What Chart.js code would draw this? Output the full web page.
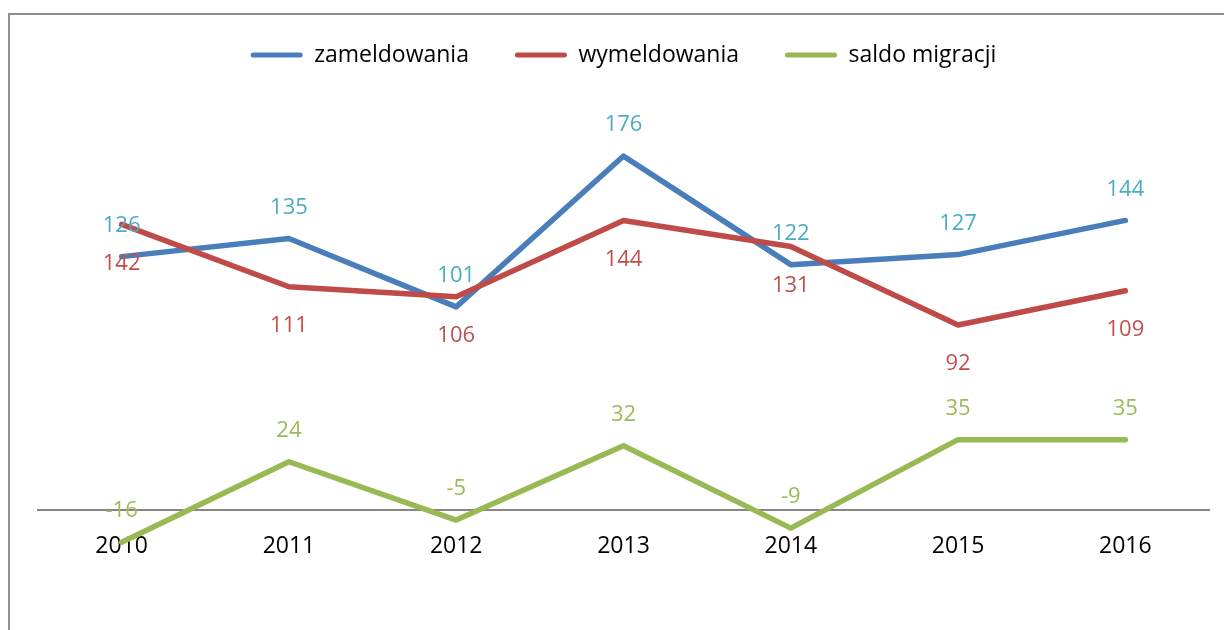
<!DOCTYPE html>
<html><head><meta charset="utf-8">
<script src="https://cdn.jsdelivr.net/npm/chart.js@4.4.1/dist/chart.umd.min.js"></script>
<style>
html,body{margin:0;padding:0;background:#fff;overflow:hidden;}
#wrap{position:relative;width:1224px;height:630px;overflow:hidden;background:#fff;}
#frame{position:absolute;left:8px;top:13px;width:1300px;height:700px;border-left:2px solid #8e8e8e;border-top:2px solid #8e8e8e;}
canvas{position:absolute;left:0;top:0;}
</style></head><body>
<div id="wrap"><div id="frame"></div><canvas id="c" width="1224" height="630"></canvas></div>
<script>
const categories = ['2010','2011','2012','2013','2014','2015','2016'];
const zameldowania = [126,135,101,176,122,127,144];
const wymeldowania = [142,111,106,144,131,92,109];
const saldoMigracji = [-16,24,-5,32,-9,35,35];
const seriesNames = ['zameldowania','wymeldowania','saldo migracji'];

Chart.defaults.font.family = "'Open Sans', sans-serif";

const legendSpacer = {
  id: 'legendSpacer',
  beforeInit(chart) {
    const fit = chart.legend.fit;
    chart.legend.fit = function() { fit.call(this); this.height += 31.3; };
  }
};

const valueLabels = {
  id: 'valueLabels',
  afterDatasetsDraw(chart) {
    const ctx = chart.ctx;
    ctx.save();
    ctx.font = "22px 'Open Sans', sans-serif";
    ctx.textAlign = 'center';
    ctx.textBaseline = 'middle';
    chart.data.datasets.forEach((ds, i) => {
      const meta = chart.getDatasetMeta(i);
      meta.data.forEach((pt, j) => {
        ctx.fillStyle = ds.labelColor;
        ctx.fillText(String(ds.data[j]), pt.x, pt.y + ds.labelOffset);
      });
    });
    ctx.restore();
  }
};

new Chart(document.getElementById('c'), {
  type: 'line',
  data: {
    labels: categories,
    datasets: [
      {label: seriesNames[0], data: zameldowania, borderColor: '#4A7EBB', backgroundColor: '#4A7EBB', labelColor: '#4BACC6', labelOffset: -31, order: 3},
      {label: seriesNames[1], data: wymeldowania, borderColor: '#BE4B48', backgroundColor: '#BE4B48', labelColor: '#C0504D', labelOffset: 39, order: 2},
      {label: seriesNames[2], data: saldoMigracji, borderColor: '#98B954', backgroundColor: '#98B954', labelColor: '#9BBB59', labelOffset: -31, order: 1}
    ]
  },
  options: {
    responsive: false,
    animation: false,
    layout: {padding: {top: -2.5, left: 38, right: 15, bottom: 19.4}},
    elements: {
      line: {borderWidth: 5.5, tension: 0, borderCapStyle: 'round', borderJoinStyle: 'round', fill: false},
      point: {radius: 0, hoverRadius: 0}
    },
    plugins: {
      tooltip: {enabled: false},
      legend: {
        position: 'top',
        align: 'center',
        labels: {
          boxWidth: 52, boxHeight: 5, padding: 46, color: '#000',
          font: {size: 23},
          useBorderRadius: true, borderRadius: 2.5,
          generateLabels(chart) {
            const items = Chart.defaults.plugins.legend.labels.generateLabels(chart);
            items.sort((a, b) => a.datasetIndex - b.datasetIndex);
            items.forEach(it => { it.lineWidth = 0; it.fillStyle = it.strokeStyle; });
            return items;
          }
        }
      }
    },
    scales: {
      x: {
        position: {y: 0},
        offset: true,
        grid: {display: false, drawTicks: false},
        border: {display: true, color: '#868686', width: 2},
        ticks: {color: '#000', font: {size: 23}, padding: 23, maxRotation: 0, autoSkip: false},
        afterFit(s) { s.height = 0; }
      },
      y: {display: false, min: -50, max: 200}
    }
  },
  plugins: [legendSpacer, valueLabels]
});
</script>
</body></html>
